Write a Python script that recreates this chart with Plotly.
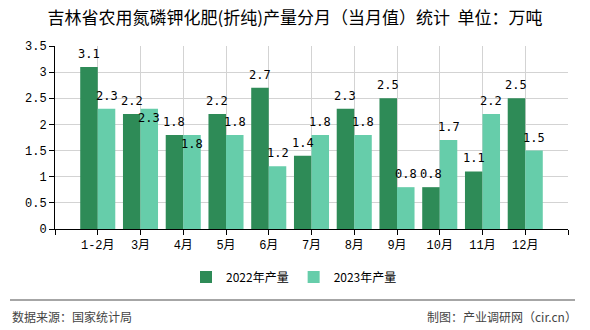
import plotly.graph_objects as go

months = ["1-2月", "3月", "4月", "5月", "6月", "7月", "8月", "9月", "10月", "11月", "12月"]
y2022 = [3.1, 2.2, 1.8, 2.2, 2.7, 1.4, 2.3, 2.5, 0.8, 1.1, 2.5]
y2023 = [2.3, 2.3, 1.8, 1.8, 1.2, 1.8, 1.8, 0.8, 1.7, 2.2, 1.5]
series_names = ["2022年产量", "2023年产量"]
ytick_vals = [0, 0.5, 1, 1.5, 2, 2.5, 3, 3.5]
ytick_text = ["0", "0.5", "1", "1.5", "2", "2.5", "3", "3.5"]

idx = list(range(len(months)))
mono = "Liberation Mono, DejaVu Sans Mono, Noto Sans CJK SC"
lab_mono = "DejaVu Sans Mono, Liberation Mono"
cjk = "Noto Sans CJK SC, sans-serif"
BW = 0.41  # bar width in category units

fig = go.Figure()
fig.add_trace(go.Bar(x=idx, y=y2022, name=series_names[0], marker=dict(color="#2E8B57", line_width=0),
                     width=BW, offset=-BW))
fig.add_trace(go.Bar(x=idx, y=y2023, name=series_names[1], marker=dict(color="#66CDAA", line_width=0),
                     width=BW, offset=0))

W, H = 590, 330
L, R, T, B = 55, 22, 46, 101
ph = H - T - B
pw = W - L - R

def py(y):
    return (H - B - y) / ph

def px(x):
    return (x - L) / pw

annotations = []
lab_font = dict(family=lab_mono, size=12, color="#000")
for i in idx:
    a, b = y2022[i], y2023[i]
    annotations.append(dict(x=i - BW / 2, y=a, xref="x", yref="y", text=str(a), showarrow=False,
                            yanchor="bottom", yshift=4, font=lab_font))
    clash = abs(a - b) < 0.3
    annotations.append(dict(x=i + BW / 2, y=b, xref="x", yref="y", text=str(b), showarrow=False,
                            yanchor="top" if clash else "bottom", yshift=0 if clash else 4,
                            font=lab_font))

annotations += [
    dict(text="数据来源：国家统计局", xref="paper", yref="paper", x=px(10), y=py(316),
         xanchor="left", yanchor="middle", showarrow=False,
         font=dict(family=cjk, size=12, color="#444")),
    dict(text="制图：产业调研网（cir.cn）", xref="paper", yref="paper", x=px(579), y=py(316),
         xanchor="right", yanchor="middle", showarrow=False,
         font=dict(family=cjk, size=12, color="#444")),
]

fig.update_layout(
    width=W, height=H, margin=dict(l=L, r=R, t=T, b=B),
    paper_bgcolor="white", plot_bgcolor="white",
    barmode="overlay",
    title=dict(text="吉林省农用氮磷钾化肥(折纯)产量分月（当月值）统计  单位：万吨",
               x=0.5, xanchor="center", y=1 - 18 / H, yanchor="middle", yref="container",
               font=dict(family=cjk, size=17, color="#000")),
    showlegend=True,
    legend=dict(orientation="h", x=px(294), xanchor="center", y=py(277), yanchor="middle",
                font=dict(family=cjk, size=12, color="#000"), itemwidth=30,
                traceorder="normal"),
    xaxis=dict(range=[-1, len(months)], tickmode="array",
               tickvals=[-1] + idx + [len(months)], ticktext=[""] + months + [""],
               showgrid=True, gridcolor="#d3d3d3", gridwidth=1,
               showline=True, linecolor="#000", linewidth=1,
               ticks="outside", ticklen=5, tickcolor="#000",
               tickfont=dict(family=mono, size=12, color="#000"), zeroline=False),
    yaxis=dict(range=[0, 3.5], tickmode="array", tickvals=ytick_vals, ticktext=ytick_text,
               showgrid=True, gridcolor="#d3d3d3", gridwidth=1,
               showline=True, linecolor="#000", linewidth=1,
               ticks="outside", ticklen=5, tickcolor="#000",
               tickfont=dict(family=mono, size=12, color="#000"), zeroline=False),
    shapes=[dict(type="line", xref="paper", yref="paper", x0=px(10), x1=px(575),
                 y0=py(300), y1=py(300), line=dict(color="#888", width=1.5))],
    annotations=annotations,
)
fig.write_html("out.html")
